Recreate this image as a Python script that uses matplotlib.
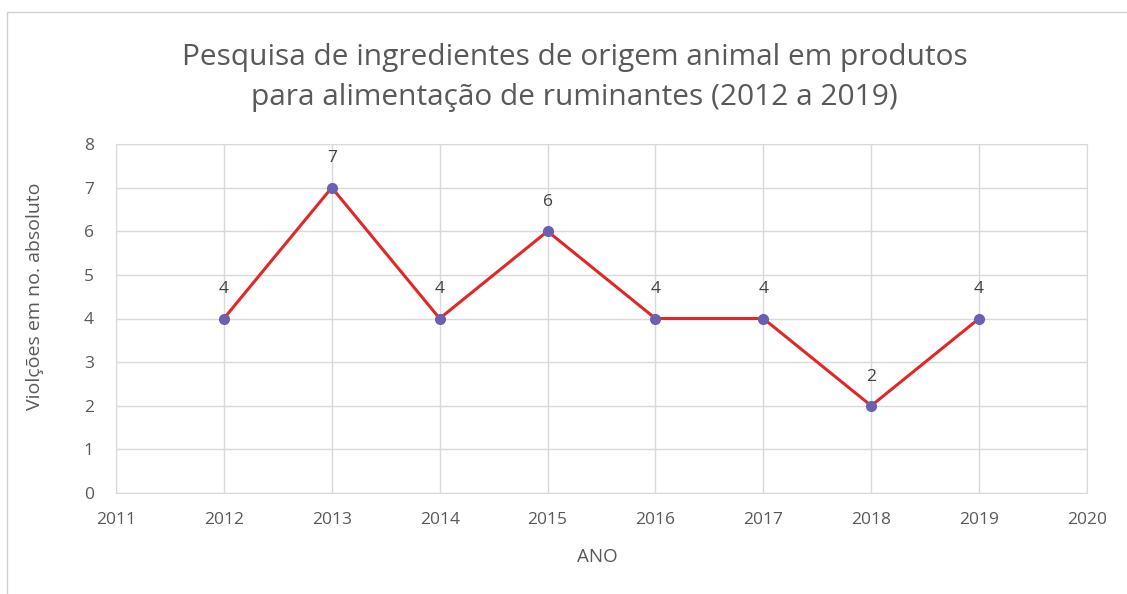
import matplotlib.pyplot as plt
from matplotlib.patches import Rectangle

anos = [2012, 2013, 2014, 2015, 2016, 2017, 2018, 2019]
violacoes = [4, 7, 4, 6, 4, 4, 2, 4]

titulo = "Pesquisa de ingredientes de origem animal em produtos\npara alimentação de ruminantes (2012 a 2019)"
xlabel = "ANO"
ylabel = "Violções em no. absoluto"

plt.rcParams['font.family'] = ['Open Sans', 'DejaVu Sans']
cinza = '#595959'
grade = '#D9D9D9'

fig = plt.figure(figsize=(11.27, 5.94), dpi=100)
fig.patches.append(Rectangle((7 / 1127, -0.1), 1.2, 1 - 12 / 594 + 0.1,
                             transform=fig.transFigure, fill=False,
                             edgecolor='#D0D0D0', linewidth=1))
ax = fig.add_axes([116 / 1127, 1 - 493 / 594, (1087 - 116) / 1127, (493 - 144) / 594])

ax.plot(anos, violacoes, color='#E02828', linewidth=2.2, marker='o',
        markersize=7, markerfacecolor='#6B5FAF', markeredgecolor='#6B5FAF', zorder=3)
for x, y in zip(anos, violacoes):
    ax.annotate(str(y), (x, y), xytext=(0, 21), textcoords='offset points',
                ha='center', va='center', fontsize=12.5, color='#404040')

ax.set_xlim(2011, 2020)
ax.set_ylim(0, 8)
ax.set_xticks(range(2011, 2021))
ax.set_yticks(range(0, 9))
ax.grid(True, color=grade, linewidth=1)
ax.set_axisbelow(True)
for s in ax.spines.values():
    s.set_color(grade)
ax.tick_params(length=0, colors=cinza, labelsize=12.5)
ax.tick_params(axis='x', pad=14)
ax.tick_params(axis='y', pad=16)

ax.set_xlabel(xlabel, fontsize=13.5, color=cinza)
ax.set_ylabel(ylabel, fontsize=14, color=cinza)
ax.xaxis.set_label_coords(0.496, -0.158)
ax.yaxis.set_label_coords(-0.074, 0.564)
fig.text(0.51, 1 - 78 / 594, titulo, ha='center', va='center', fontsize=21.5,
         color=cinza, linespacing=1.5)

fig.savefig('out.png', dpi=100)
